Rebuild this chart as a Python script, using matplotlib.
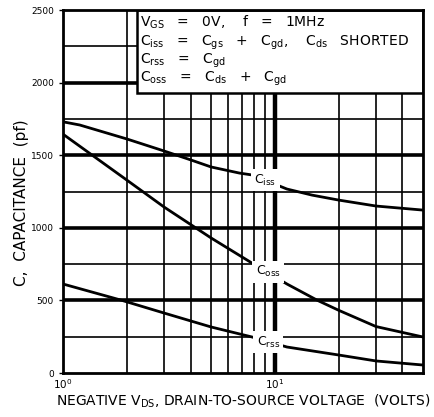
import numpy as np
import matplotlib
matplotlib.use("Agg")
import matplotlib.pyplot as plt
from matplotlib.patches import Rectangle

# drain-source voltage (V) and capacitance (pF)
v_iss = [1, 1.2, 2, 3, 4, 5, 6.8, 7.8, 11.4, 15, 20, 30, 50]
c_iss = [1730, 1708, 1612, 1529, 1468, 1419, 1377, 1364, 1267, 1225, 1191, 1150, 1122]

v_oss = [1, 2, 3, 5, 7.8, 11.4, 15.9, 20, 30, 50]
c_oss = [1645, 1329, 1143, 930, 757, 613, 500, 432, 320, 248]

v_rss = [1, 1.9, 3, 5, 7.8, 11.4, 20, 30, 50]
c_rss = [613, 500, 413, 317, 248, 179, 124, 83, 55]

curve_labels = [r"C$_{\rm iss}$", r"C$_{\rm oss}$", r"C$_{\rm rss}$"]
label_pos = [(9.0, 1329), (9.3, 696), (9.3, 213)]

info_lines = [
    r"V$_{\rm GS}$   =   0V,    f   =   1MHz",
    r"C$_{\rm iss}$   =   C$_{\rm gs}$   +   C$_{\rm gd}$,    C$_{\rm ds}$   SHORTED",
    r"C$_{\rm rss}$   =   C$_{\rm gd}$",
    r"C$_{\rm oss}$   =   C$_{\rm ds}$   +   C$_{\rm gd}$",
]

fig = plt.figure(figsize=(4.35, 4.17), dpi=100)
ax = fig.add_axes([0.1448, 0.1055, 0.8276, 0.8705])

ax.set_xscale("log")
ax.set_xlim(1, 50)
ax.set_ylim(0, 2500)

# grid: heavy at 500s and at 10 V, light elsewhere
for y in range(250, 2500, 250):
    lw = 2.6 if y % 500 == 0 else 1.2
    ax.axhline(y, color="black", lw=lw, zorder=1)
for x in [2, 3, 4, 5, 6, 7, 8, 9, 20, 30, 40]:
    ax.axvline(x, color="black", lw=1.2, zorder=1)
ax.axvline(10, color="black", lw=3.2, zorder=1)

for v, c in [(v_iss, c_iss), (v_oss, c_oss), (v_rss, c_rss)]:
    ax.plot(v, c, color="black", lw=2, zorder=2)

for lab, (x, y) in zip(curve_labels, label_pos):
    ax.text(x, y, lab, fontsize=9, ha="center", va="center", zorder=3,
            bbox=dict(facecolor="white", edgecolor="none", pad=2.5))

# condition box in upper right
ax.add_patch(Rectangle((0.2056, 0.771), 0.7944, 0.229, transform=ax.transAxes,
                       facecolor="white", edgecolor="black", lw=1.8, zorder=4))
for i, line in enumerate(info_lines):
    ax.text(0.213, 0.953 - i * 0.0505, line, transform=ax.transAxes,
            fontsize=10, va="baseline", ha="left", zorder=5)

ax.set_xticks([1, 10])
ax.set_xticklabels([r"$10^0$", r"$10^1$"])
ax.xaxis.set_minor_locator(matplotlib.ticker.NullLocator())
ax.set_yticks([0, 500, 1000, 1500, 2000, 2500])
ax.tick_params(axis="both", labelsize=6.5, length=3, width=1)
ax.tick_params(axis="x", length=0, pad=3, labelsize=7.5)

ax.set_xlabel(r"NEGATIVE V$_{\rm DS}$, DRAIN-TO-SOURCE VOLTAGE  (VOLTS)", fontsize=10, labelpad=1)
ax.set_ylabel("C,  CAPACITANCE  (pf)", fontsize=11)
ax.yaxis.set_label_coords(-0.095, 0.47)

for s in ax.spines.values():
    s.set_linewidth(2)
    s.set_zorder(6)

fig.savefig("out.png", dpi=100)
